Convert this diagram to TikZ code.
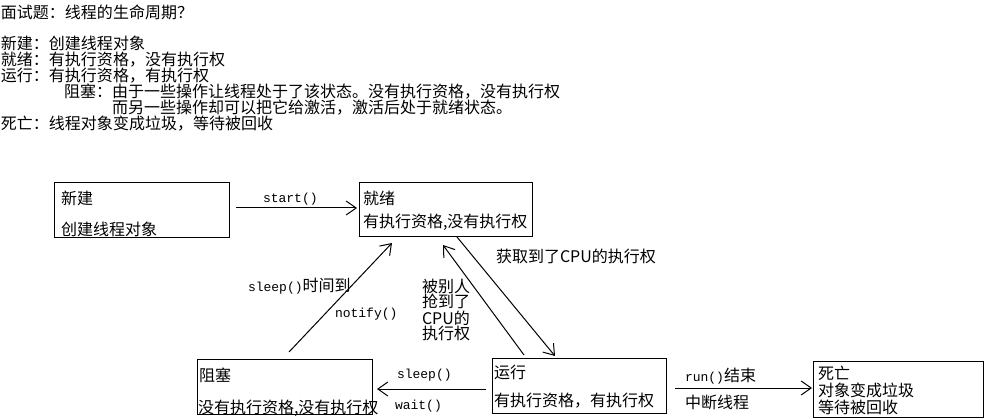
\documentclass[tikz,border=0pt]{standalone}
\usepackage{fontspec}
\setmainfont{Noto Sans CJK SC}
\newfontfamily\monof{Liberation Mono}
\usetikzlibrary{arrows.meta,calc}
\newcommand\mn[1]{{\monof\fontsize{13pt}{13pt}\selectfont #1}}
\tikzset{
  box/.style={draw,line width=1pt,anchor=north west,inner sep=0pt,outer sep=0pt},
  txt/.style={anchor=base west,inner sep=0pt,outer sep=0pt,font=\fontsize{16pt}{16pt}\selectfont},
  conn/.style={line width=1pt,-{Straight Barb[length=10pt,width=14pt]}}
}
\begin{document}
\begin{tikzpicture}[x=1pt,y=-1pt]
\fill[white] (0,0) rectangle (992,419);
\useasboundingbox (0,0) rectangle (992,419);
% header text
\node[txt] (q)  at (1,19)   {面试题：线程的生命周期？};
\node[txt] (l1) at (1,50)   {新建：创建线程对象};
\node[txt] (l2) at (1,66)   {就绪：有执行资格，没有执行权};
\node[txt] (l3) at (1,82)   {运行：有执行资格，有执行权};
\node[txt] (l4) at (64,98)  {阻塞：由于一些操作让线程处于了该状态。没有执行资格，没有执行权};
\node[txt] (l5) at (112,114){而另一些操作却可以把它给激活，激活后处于就绪状态。};
\node[txt] (l6) at (1,130)  {死亡：线程对象变成垃圾，等待被回收};
% boxes
\node[box,minimum width=175pt,minimum height=55pt] (new)     at (54,183)  {};
\node[box,minimum width=173pt,minimum height=54pt] (ready)   at (359,183) {};
\node[box,minimum width=175pt,minimum height=55pt] (blocked) at (197,359) {};
\node[box,minimum width=174pt,minimum height=55pt] (running) at (492,358) {};
\node[box,minimum width=170pt,minimum height=56pt] (dead)    at (813,361) {};
% box texts
\node[txt] (newA)   at (61,205)  {新建};
\node[txt] (newB)   at (61,236)  {创建线程对象};
\node[txt] (readyA) at (363,205) {就绪};
\node[txt] (readyB) at (363,228) {有执行资格,没有执行权};
\node[txt] (blkA)   at (199,381) {阻塞};
\node[txt] (blkB)   at (198,413) {没有执行资格,没有执行权};
\node[txt] (runA)   at (494,378) {运行};
\node[txt] (runB)   at (494,406) {有执行资格，有执行权};
\node[txt] (deadA)  at (818,379) {死亡};
\node[txt] (deadB)  at (818,396) {对象变成垃圾};
\node[txt] (deadC)  at (818,413) {等待被回收};
% connector labels
\node[txt] (lstart)  at (263,203) {\mn{start()}};
\node[txt] (lsleepT) at (248,291) {\mn{sleep()}时间到};
\node[txt] (lnotify) at (335,317) {\mn{notify()}};
\node[txt] (lrobA)   at (422,293) {被别人};
\node[txt] (lrobB)   at (422,308) {抢到了};
\node[txt] (lrobC)   at (422,324) {CPU的};
\node[txt] (lrobD)   at (422,339) {执行权};
\node[txt] (lget)    at (496,263) {获取到了CPU的执行权};
\node[txt] (lsleep)  at (397,378) {\mn{sleep()}};
\node[txt] (lwait)   at (395,409) {\mn{wait()}};
\node[txt] (lrun)    at (685,381) {\mn{run()}结束};
\node[txt] (lint)    at (685,408) {中断线程};
% connectors
\draw[conn] ($(new.east)+(7,-2.5)$) -- ($(ready.west)+(-2,-2)$);
\draw[conn] ($(blocked.north)+(4.5,-7)$) -- ($(ready.south west)+(33,6)$);
\draw[conn] ($(ready.south)+(11.5,0)$) -- ($(running.north)+(-24,-2)$);
\draw[conn] ($(running.north west)+(32,-3)$) -- ($(ready.south)+(-2.5,8)$);
\draw[conn] ($(running.west)+(-6,3.5)$) -- ($(blocked.east)+(5,2.5)$);
\draw[conn] ($(running.east)+(9,2.5)$) -- ($(dead.west)+(-1,-1)$);
\end{tikzpicture}
\end{document}
